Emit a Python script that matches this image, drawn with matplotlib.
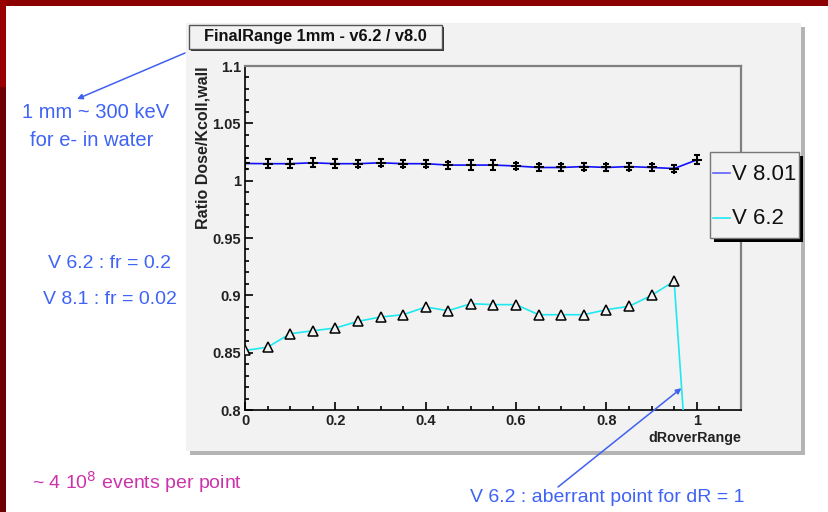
import matplotlib
matplotlib.use("Agg")
import matplotlib.pyplot as plt
import numpy as np
from matplotlib.patches import Rectangle
from matplotlib.lines import Line2D
from matplotlib.ticker import MultipleLocator, FuncFormatter

plt.rcParams['font.family'] = ['Liberation Sans', 'DejaVu Sans']

# data
dr = [0.0, 0.05, 0.1, 0.15, 0.2, 0.25, 0.3, 0.35, 0.4, 0.45, 0.5,
      0.55, 0.6, 0.65, 0.7, 0.75, 0.8, 0.85, 0.9, 0.95, 1.0]
v801 = [1.0150, 1.0148, 1.0148, 1.0156, 1.0148, 1.0148, 1.0156, 1.0148, 1.0148, 1.0136, 1.0136,
        1.0136, 1.0128, 1.0115, 1.0115, 1.0123, 1.0115, 1.0123, 1.0115, 1.0106, 1.0181]
v801_err = [0.005, 0.004, 0.004, 0.004, 0.004, 0.003, 0.003, 0.003, 0.003, 0.003, 0.004,
            0.004, 0.003, 0.003, 0.003, 0.003, 0.003, 0.003, 0.003, 0.003, 0.004]
v62 = [0.8519, 0.8548, 0.8665, 0.8691, 0.8715, 0.8773, 0.8811, 0.8831, 0.8898, 0.8866, 0.8927,
       0.8919, 0.8919, 0.8831, 0.8831, 0.8831, 0.8875, 0.8904, 0.9000, 0.9123, 0.630]
v62_err = [0.002] * 21

W, H = 829, 512
BLUE_TXT = '#3f63f5'


def fx(x):
    return x / W


def fy(y):
    return 1 - y / H


def box(fig, x0, y0, x1, y1, z, **kw):
    r = Rectangle((fx(x0), fy(y1)), (x1 - x0) / W, (y1 - y0) / H,
                  transform=fig.transFigure, zorder=z, **kw)
    fig.add_artist(r)
    return r


fig = plt.figure(figsize=(W / 100, H / 100), dpi=100)
fig.patch.set_facecolor('white')

# slide border
box(fig, 0, 0, W, 6, 1, fc='#8b0000', ec='none')
box(fig, 0, 0, 6, 87, 1, fc='#990000', ec='none')
box(fig, 0, 87, 6, H, 1, fc='#700000', ec='none')

# ROOT canvas pad
box(fig, 190, 27, 805, 455, -3, fc='#b4b4b4', ec='none')
box(fig, 186, 23, 801, 451, -2, fc='#f2f2f2', ec='none')

ax = fig.add_axes([fx(245), fy(410), (741 - 245) / W, (410 - 66) / H])
ax.set_facecolor('#f2f2f2')
ax.set_zorder(1)

ax.plot(dr, v801, color='#1010ff', lw=1.2, zorder=3)
eb = ax.errorbar(dr, v801, yerr=v801_err, fmt='+', color='black', ms=7, mew=1.5,
                 elinewidth=1.2, capsize=2.5, capthick=1.2, zorder=4)
for cap in eb[1]:
    cap.set_color('#1010ff')

ax.plot(dr, v62, color='#20e8f0', lw=1.2, zorder=3)
ax.errorbar(dr, v62, yerr=v62_err, fmt='^', color='black', mfc='#f2f2f2', mec='black',
            ms=7, mew=1.1, elinewidth=1, capsize=0, zorder=4)

ax.set_xlim(0, 1.098)
ax.set_ylim(0.8, 1.1)
ax.xaxis.set_major_locator(MultipleLocator(0.2))
ax.xaxis.set_minor_locator(MultipleLocator(0.05))
ax.yaxis.set_major_locator(MultipleLocator(0.05))
ax.yaxis.set_minor_locator(MultipleLocator(0.01))
fmt = FuncFormatter(lambda v, p: '%g' % round(v, 3))
ax.xaxis.set_major_formatter(fmt)
ax.yaxis.set_major_formatter(fmt)
ax.tick_params(which='both', direction='in', width=1.2, labelsize=10.5, color='black')
ax.tick_params(which='major', length=6, pad=3)
ax.tick_params(which='minor', length=3)
for lab in ax.get_xticklabels() + ax.get_yticklabels():
    lab.set_fontweight('bold')
    lab.set_color('#222222')

for s in ['left', 'bottom']:
    ax.spines[s].set_color('black')
    ax.spines[s].set_linewidth(1.2)
for s in ['top', 'right']:
    ax.spines[s].set_color('#808080')
    ax.spines[s].set_linewidth(1.6)

ax.set_ylabel('Ratio Dose/Kcoll,wall', fontsize=11.5, fontweight='bold', loc='top', color='#222222')
ax.yaxis.set_label_coords((211 - 245) / 496, 1.0)
ax.set_xlabel('dRoverRange', fontsize=10.3, fontweight='bold', loc='right', color='#222222')
ax.xaxis.set_label_coords(1.0, -(431 - 410) / 344)

# title box
box(fig, 191, 27, 444, 51, 5, fc='#333333', ec='none')
box(fig, 189, 25, 442, 49, 5, fc='#f2f2f2', ec='#555555', lw=1)
fig.text(fx(315.5), fy(37), 'FinalRange 1mm - v6.2 / v8.0', fontsize=11.8, fontweight='bold',
         ha='center', va='center', color='#111111', zorder=6)

# legend box
box(fig, 714, 156, 803, 242, 5, fc='black', ec='none')
box(fig, 710, 152, 799, 238, 5, fc='#f2f2f2', ec='#777777', lw=1)
fig.add_artist(Line2D([fx(713), fx(730)], [fy(173), fy(173)], color='#6060ff', lw=1.2,
                      transform=fig.transFigure, zorder=6))
fig.add_artist(Line2D([fx(713), fx(730)], [fy(218), fy(218)], color='#20e8f0', lw=1.2,
                      transform=fig.transFigure, zorder=6))
fig.text(fx(732), fy(174), 'V 8.01', fontsize=16, ha='left', va='center', color='#111111', zorder=6)
fig.text(fx(732), fy(219), 'V 6.2', fontsize=16, ha='left', va='center', color='#111111', zorder=6)

# slide annotations
fig.text(fx(96), fy(113), '1 mm ~ 300 keV', fontsize=14.5, color=BLUE_TXT, ha='center', va='center')
fig.text(fx(92), fy(140), 'for e- in water', fontsize=14.5, color=BLUE_TXT, ha='center', va='center')
fig.text(fx(110), fy(263), 'V 6.2 : fr = 0.2', fontsize=14, color=BLUE_TXT, ha='center', va='center')
fig.text(fx(110), fy(300), 'V 8.1 : fr = 0.02', fontsize=14, color=BLUE_TXT, ha='center', va='center')
fig.text(fx(32), fy(482), r'~ 4 10$^{8}$ events per point', fontsize=14, color='#cc33aa',
         ha='left', va='center')
fig.text(fx(470), fy(497), 'V 6.2 : aberrant point for dR = 1', fontsize=14, color=BLUE_TXT,
         ha='left', va='center')

ax.annotate('', xy=(fx(77), fy(99)), xycoords='figure fraction',
            xytext=(fx(185), fy(53)), textcoords='figure fraction',
            arrowprops=dict(arrowstyle='-|>', color='#4060f0', lw=1.1, mutation_scale=8,
                            shrinkA=0, shrinkB=0))
ax.annotate('', xy=(0.966, 0.819), xycoords='data',
            xytext=(fx(558), fy(487)), textcoords='figure fraction',
            arrowprops=dict(arrowstyle='-|>', color='#4060f0', lw=1.1, mutation_scale=8,
                            shrinkA=0, shrinkB=0), annotation_clip=False)

fig.savefig('out.png', dpi=100)
